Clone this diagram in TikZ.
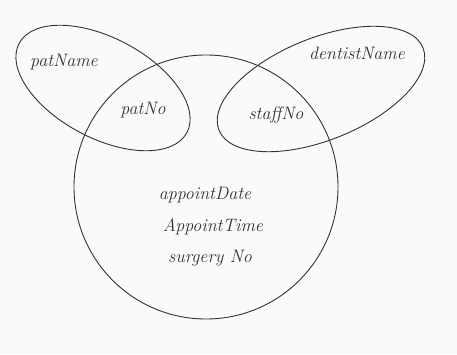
\documentclass[tikz,border=0pt]{standalone}
\usepackage{tikz}
\usetikzlibrary{positioning}

\tikzset{
  set/.style={draw=black!80, line width=0.9pt},
  attr/.style={font=\fontsize{18}{20}\selectfont\itshape, text=black!80, inner sep=1pt}
}

\begin{document}
\begin{tikzpicture}[x=1pt,y=1pt]
  \useasboundingbox[fill=black!2] (0,0) rectangle (457,354);
  % the three sets
  \draw[set] (206,167) circle [radius=132];
  \draw[set, rotate around={-28:(103,266)}] (103,266) ellipse [x radius=95, y radius=50];
  \draw[set, rotate around={22:(321,265)}] (321,265) ellipse [x radius=110, y radius=51];
  % attributes
  \node[attr] (patname) at (64,292) {patName};
  \node[attr] (patno) at (143,244) {patNo};
  \node[attr] (dentname) at (357,301) {dentistName};
  \node[attr] (staffno) at (276,239) {staffNo};
  \node[attr] (apdate) at (205,159) {appointDate};
  \node[attr, below=13pt of apdate, xshift=8pt] (aptime) {AppointTime};
  \node[attr, below=13pt of aptime, xshift=-3pt] (surgno) {surgery No};
\end{tikzpicture}
\end{document}
